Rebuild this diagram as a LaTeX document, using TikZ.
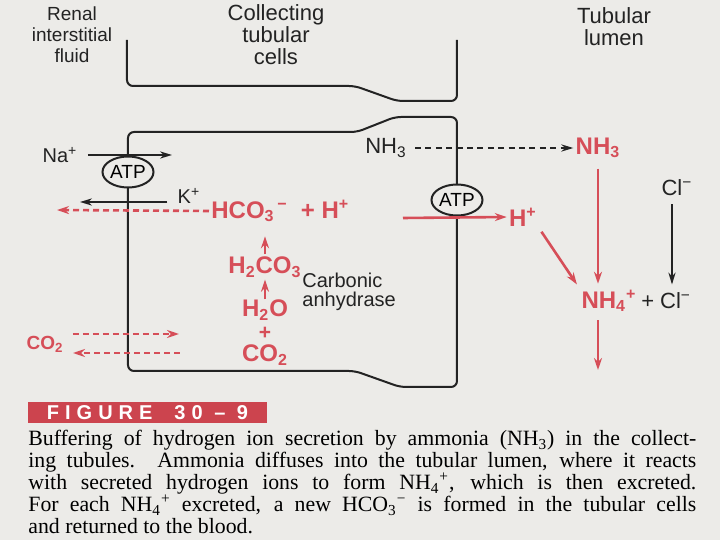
\documentclass[tikz,border=0pt]{standalone}
\usepackage{fontspec}
\setmainfont{Liberation Serif}
\newfontfamily\lblfont{Liberation Sans}
\newfontfamily\figfont[LetterSpace=30]{Liberation Sans}
\usepackage{tikz}
\usetikzlibrary{arrows.meta,shapes.geometric,positioning}
\definecolor{pagegray}{RGB}{236,235,232}
\definecolor{inkred}{RGB}{214,78,88}
\definecolor{bannerred}{RGB}{204,68,78}
\definecolor{inkblack}{RGB}{35,35,35}
\newcommand{\chsub}[1]{\textsubscript{#1}}
\newcommand{\chsup}[1]{\textsuperscript{#1}}

\begin{document}
\begin{tikzpicture}[x=0.5pt,y=-0.5pt,
    membrane/.style={draw=inkblack,line width=1pt,rounded corners=3pt},
    lbl/.style={inner sep=1pt,text=inkblack,font=\lblfont\fontsize{11}{11}\selectfont},
    smalllbl/.style={lbl,font=\lblfont\fontsize{9.5}{10.5}\selectfont},
    redlbl/.style={inner sep=1pt,text=inkred,font=\lblfont\bfseries\fontsize{12}{12}\selectfont},
    pump/.style={ellipse,draw=inkblack,line width=1pt,minimum width=25.5pt,
                 minimum height=15.5pt,inner sep=0pt,fill=pagegray,
                 font=\lblfont\fontsize{9.5}{10}\selectfont},
    blkarr/.style={draw=inkblack,line width=0.9pt,-{Stealth[length=6pt,width=3.6pt]}},
    blkdash/.style={blkarr,dash pattern=on 3pt off 2.2pt},
    redarr/.style={draw=inkred,line width=1.3pt,-{Stealth[length=6pt,width=4pt]}},
    reddash/.style={redarr,dash pattern=on 3pt off 2pt}]
  \useasboundingbox (0,0) rectangle (720,540);
  \fill[pagegray] (0,0) rectangle (720,540);

  % compartment titles
  \node[smalllbl,align=center] (renal) at (72,35) {Renal\\interstitial\\fluid};
  \node[lbl,align=center] (cells) at (276,35) {Collecting\\tubular\\cells};
  \node[lbl,align=center] (lumen) at (614,27) {Tubular\\lumen};

  % cell membranes
  \draw[membrane] (127,40) -- (127,86) -- (355,86) -- (397,101) -- (457,101) -- (457,40);
  \draw[membrane] (128,158) -- (128,132) -- (357,132) -- (395,117) -- (457,117) -- (457,186);
  \draw[membrane] (128,187) -- (128,371) -- (355,371) -- (400,387) -- (457,387) -- (457,216);

  % pumps
  \node[pump] (atpl) at (128,172) {ATP};
  \node[pump] (atpr) at (457,200) {ATP};

  % basolateral side
  \node[lbl,font=\lblfont\fontsize{10}{10}\selectfont] (na) at (60,155) {Na\chsup{+}};
  \coordinate (naend) at (172,155);
  \draw[blkarr,shorten <=4pt] (na) -- (naend);
  \node[lbl,font=\lblfont\fontsize{10}{10}\selectfont] (kp) at (189,196) {K\chsup{+}};
  \coordinate (kend) at (80,202);
  \draw[blkarr] ([xshift=-4pt]kp.west |- kend) -- (kend);

  \node[redlbl,anchor=west] (hco) at (209,211) {HCO\chsub{3}\chsup{\,−}\ \ + H\chsup{+}};
  \coordinate (hcoend) at (57,210);
  \draw[reddash] (hco.west) -- (hcoend);

  \node[redlbl] (h2co3) at (265,267) {H\chsub{2}CO\chsub{3}};
  \node[redlbl,inner sep=0pt] (h2o) at (265,310) {H\chsub{2}O};
  \node[redlbl,inner sep=0pt,font=\lblfont\bfseries\fontsize{10.5}{10.5}\selectfont] (plus) at (265,333) {+};
  \node[redlbl,inner sep=0pt] (co2in) at (265,355) {CO\chsub{2}};
  \draw[redarr,shorten >=6pt] (h2co3.north) -- (h2co3.north |- hco.south);
  \draw[redarr] (h2o.north) -- (h2co3.south);
  \node[lbl,align=left,anchor=west,font=\lblfont\fontsize{10}{9.5}\selectfont] (ca) at (300,292) {Carbonic\\anhydrase};

  \node[redlbl,font=\lblfont\bfseries\fontsize{9.5}{10}\selectfont] (co2out) at (45,344) {CO\chsub{2}};
  \coordinate (co2a) at (73,334);
  \coordinate (co2b) at (179,334);
  \coordinate (co2c) at (180,353);
  \coordinate (co2d) at (73,353);
  \draw[reddash] (co2a) -- (co2b);
  \draw[reddash] (co2c) -- (co2d);

  % lumen side
  \node[lbl] (nh3c) at (386,148) {NH\chsub{3}};
  \node[redlbl] (nh3l) at (598,148) {NH\chsub{3}};
  \draw[blkdash,shorten <=3pt] (nh3c.east) -- (nh3l.west);

  \node[redlbl] (hp) at (523,217) {H\chsup{+}};
  \coordinate (hstart) at (403,218);
  \draw[redarr] (hstart) -- (hp.west);

  \node[lbl] (cl) at (677,188) {Cl\chsup{−}};
  \node[redlbl] (nh4) at (609,301) {NH\chsub{4}\chsup{+}};
  \node[lbl,right=0pt of nh4] (plcl) {+ Cl\chsup{−}};
  \coordinate (out) at (598,370);

  \draw[redarr,shorten <=4pt,shorten >=2pt] (nh3l.south) -- (nh3l.south |- nh4.north);
  \draw[redarr,shorten <=2pt,shorten >=2pt] (hp.south east) -- (nh4.north west);
  \draw[blkarr,shorten <=3pt,shorten >=3pt] ([xshift=-2.5pt]cl.south) -- ([xshift=-2.5pt]cl.south |- plcl.north);
  \draw[redarr,shorten <=3pt] (nh4.south -| out) -- (out);

  % figure banner and caption
  \node[fill=bannerred,text=white,minimum width=119.5pt,minimum height=10.5pt,inner sep=0pt,
        font=\figfont\bfseries\fontsize{10}{10}\selectfont] (fig) at (147.5,412.5)
    {FIGURE\hspace{11pt}30 – 9};
  \node[anchor=north west,inner sep=0pt,align=left,
        font=\fontsize{10.9}{11}\selectfont] (cap) at (28,430)
    {\makebox[334pt][s]{Buffering of hydrogen ion secretion by ammonia (NH\chsub{3}) in the collect-}\\
     \makebox[334pt][s]{ing tubules. Ammonia diffuses into the tubular lumen, where it reacts}\\
     \makebox[334pt][s]{with secreted hydrogen ions to form NH\chsub{4}\chsup{+}, which is then excreted.}\\
     \makebox[334pt][s]{For each NH\chsub{4}\chsup{+} excreted, a new HCO\chsub{3}\chsup{−} is formed in the tubular cells}\\
     and returned to the blood.};
\end{tikzpicture}
\end{document}
